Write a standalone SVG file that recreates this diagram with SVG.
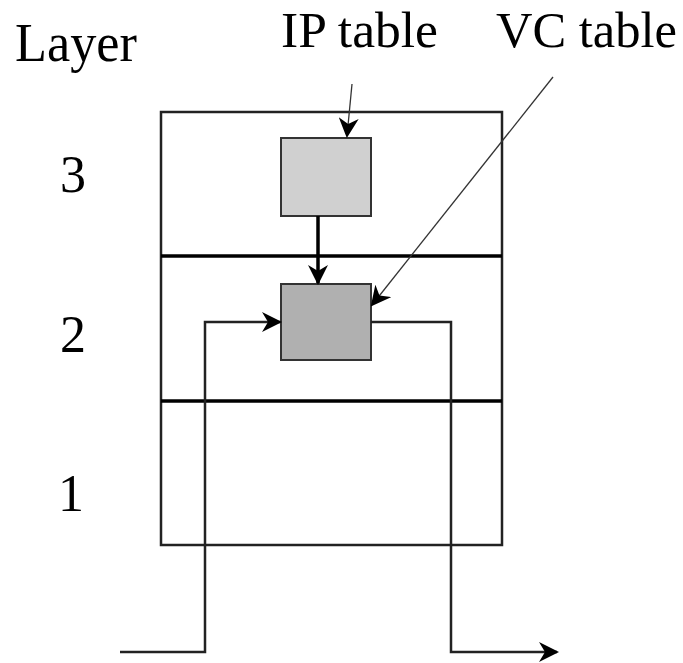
<svg xmlns="http://www.w3.org/2000/svg" width="683" height="663" viewBox="0 0 683 663">
<style>
.t{font-family:"Liberation Serif","Times New Roman",serif;fill:#000}
.ln{fill:none;stroke:#222;stroke-width:2.5}
.thick{fill:none;stroke:#000;stroke-width:3.5}
.thin{fill:none;stroke:#333;stroke-width:1.3}
</style>
<defs>
<marker id="ahS" viewBox="0 0 10 10" refX="9" refY="5" markerWidth="20" markerHeight="20" markerUnits="userSpaceOnUse" orient="auto">
<path d="M0,0 L10,5 L0,10 L3,5 Z" fill="#000"/>
</marker>
</defs>
<rect width="683" height="663" fill="#fff"/>
<g id="frame">
<rect x="161" y="112" width="341" height="433" class="ln"/>
<line x1="161" y1="256" x2="502" y2="256" class="thick"/>
<line x1="161" y1="401" x2="502" y2="401" class="thick"/>
</g>
<g id="labels">
<text x="15" y="61" class="t" font-size="54" textLength="122" lengthAdjust="spacingAndGlyphs">Layer</text>
<text x="60" y="192" class="t" font-size="52">3</text>
<text x="60" y="352" class="t" font-size="52">2</text>
<text x="58" y="511" class="t" font-size="52">1</text>
</g>
<g id="ip-table">
<rect x="281" y="138" width="90" height="78" fill="#d0d0d0" stroke="#333" stroke-width="2"/>
<text x="281" y="47" class="t" font-size="50" textLength="157" lengthAdjust="spacingAndGlyphs">IP table</text>
</g>
<g id="vc-table">
<rect x="281" y="284" width="90" height="76" fill="#b0b0b0" stroke="#333" stroke-width="2"/>
<text x="496" y="47" class="t" font-size="50" textLength="181" lengthAdjust="spacingAndGlyphs">VC table</text>
</g>
<g id="connectors">
<line x1="352" y1="84" x2="347" y2="136" class="thin" marker-end="url(#ahS)"/>
<line x1="553" y1="77" x2="372" y2="305" class="thin" marker-end="url(#ahS)"/>
<line x1="318" y1="216" x2="318" y2="283" class="thick" marker-end="url(#ahS)"/>
<polyline points="120,652 205,652 205,322 280,322" class="ln" marker-end="url(#ahS)"/>
<polyline points="371,322 451,322 451,652 557,652" class="ln" marker-end="url(#ahS)"/>
</g>
</svg>
